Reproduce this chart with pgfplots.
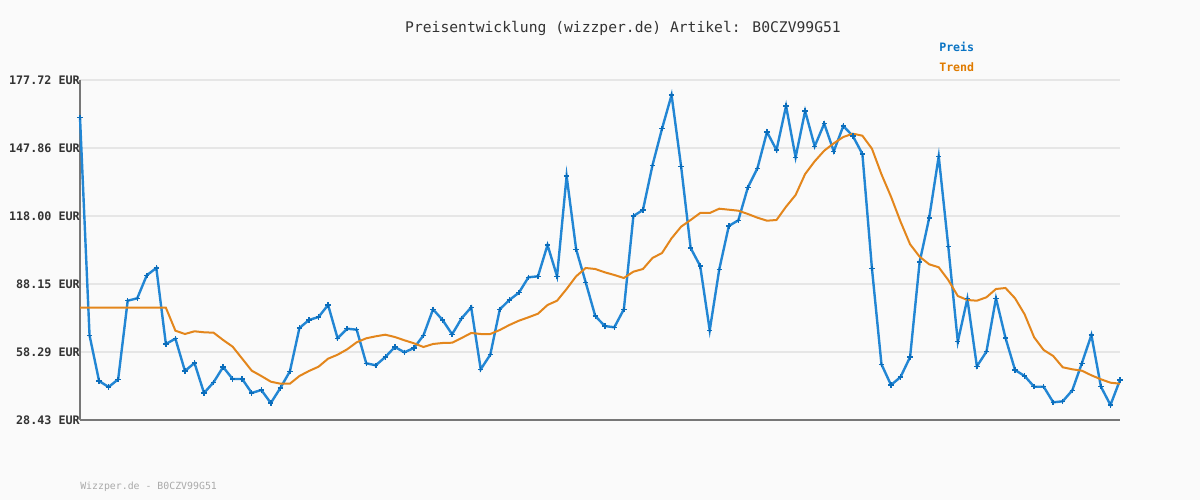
\documentclass[border=0pt]{standalone}
\usepackage{pgfplots}
\pgfplotsset{compat=1.18}
\usepackage{fontspec}
\setmainfont{DejaVu Sans Mono}
\setmonofont{DejaVu Sans Mono}
\definecolor{bgc}{HTML}{FAFAFA}
\definecolor{gridc}{HTML}{E6E6E6}
\definecolor{axc}{HTML}{777777}
\definecolor{txtc}{HTML}{333333}
\definecolor{preisc}{HTML}{2286D4}
\definecolor{markc}{HTML}{0B6DBB}
\definecolor{trendc}{HTML}{E3861C}
\definecolor{legb}{HTML}{0A74C4}
\definecolor{lego}{HTML}{E07B00}
\definecolor{footc}{HTML}{AAAAAA}
\begin{document}
\begin{tikzpicture}[x=0.75pt,y=0.75pt]
\fill[bgc] (0,0) rectangle (1200,500);
\begin{axis}[
  at={(60pt,60pt)}, anchor=south west,
  scale only axis, width=780pt, height=255pt,
  xmin=0, xmax=109, ymin=28.43, ymax=177.72,
  axis x line*=bottom, axis y line*=left,
  axis line style={axc, line width=1.5pt},
  xtick=\empty,
  ytick={28.43,58.29,88.15,118.00,147.86,177.72},
  yticklabels={{28.43 EUR},{58.29 EUR},{88.15 EUR},{118.00 EUR},{147.86 EUR},{177.72 EUR}},
  yticklabel style={font=\fontsize{8.8}{10}\selectfont\bfseries, text=txtc, inner xsep=0pt, xshift=0pt},
  major tick length=0pt,
  ymajorgrids, grid style={gridc, line width=1.5pt},
  clip=false,
]
\addplot[preisc, line width=1.8pt, mark=+, mark size=2pt, mark options={markc, line width=1.1pt}] coordinates {
(0,161.34)(1,65.62)(2,45.55)(3,42.92)(4,46.30)(5,80.81)(6,81.87)(7,91.97)(8,95.17)(9,61.80)
(10,64.13)(11,49.95)(12,53.46)(13,40.29)(14,44.98)(15,51.70)(16,46.43)(17,46.43)(18,40.29)(19,41.60)
(20,35.89)(21,42.48)(22,49.81)(23,68.83)(24,72.34)(25,73.66)(26,78.93)(27,64.30)(28,68.52)(29,68.08)
(30,53.33)(31,52.45)(32,56.09)(33,60.48)(34,58.16)(35,60.04)(36,65.62)(37,77.04)(38,72.34)(39,66.06)
(40,73.09)(41,77.91)(42,50.69)(43,57.10)(44,77.04)(45,81.12)(46,84.33)(47,91.09)(48,91.53)(49,105.27)
(50,91.53)(51,135.57)(52,103.38)(53,88.89)(54,74.10)(55,69.70)(56,69.13)(57,77.04)(58,118.00)(59,120.64)
(60,140.27)(61,156.34)(62,171.13)(63,139.83)(64,103.95)(65,96.05)(66,67.82)(67,94.60)(68,113.61)(69,116.12)
(70,130.61)(71,138.95)(72,154.89)(73,146.98)(74,166.31)(75,143.78)(76,164.11)(77,148.61)(78,158.53)(79,146.41)
(80,157.52)(81,153.13)(82,145.23)(83,95.04)(84,52.89)(85,43.80)(86,47.31)(87,56.09)(88,97.81)(89,117.13)
(90,144.22)(91,104.70)(92,62.81)(93,81.69)(94,52.01)(95,58.42)(96,81.87)(97,64.44)(98,50.38)(99,47.75)
(100,43.05)(101,43.05)(102,36.20)(103,36.64)(104,41.47)(105,53.33)(106,65.75)(107,43.05)(108,35.02)(109,45.99)
};
\addplot[trendc, line width=1.5pt, no marks] coordinates {
(0,77.74)(1,77.74)(2,77.74)(3,77.74)(4,77.74)(5,77.74)(6,77.74)(7,77.74)(8,77.74)(9,77.74)
(10,67.64)(11,66.19)(12,67.38)(13,66.94)(14,66.76)(15,63.56)(16,60.62)(17,55.35)(18,50.08)(19,47.75)
(20,45.25)(21,44.37)(22,44.37)(23,47.75)(24,49.95)(25,51.83)(26,55.35)(27,57.10)(28,59.47)(29,62.55)
(30,64.30)(31,65.18)(32,65.88)(33,64.87)(34,63.43)(35,62.11)(36,60.48)(37,61.80)(38,62.24)(39,62.37)
(40,64.44)(41,66.63)(42,66.19)(43,66.19)(44,67.95)(45,70.14)(46,72.03)(47,73.52)(48,75.10)(49,78.93)
(50,80.81)(51,85.95)(52,91.53)(53,95.17)(54,94.73)(55,93.28)(56,92.10)(57,90.78)(58,93.55)(59,94.73)
(60,99.56)(61,101.76)(62,108.21)(63,113.31)(64,116.25)(65,119.32)(66,119.32)(67,121.21)(68,120.77)(69,120.33)
(70,118.88)(71,117.26)(72,115.94)(73,116.25)(74,122.09)(75,127.23)(76,136.45)(77,142.02)(78,146.68)(79,149.93)
(80,152.69)(81,154.14)(82,153.26)(83,147.56)(84,136.31)(85,126.48)(86,115.50)(87,105.58)(88,100.13)(89,96.80)
(90,95.48)(91,89.90)(92,82.88)(93,81.12)(94,80.81)(95,82.31)(96,85.95)(97,86.39)(98,81.87)(99,74.84)
(100,64.74)(101,59.17)(102,56.53)(103,51.57)(104,50.69)(105,50.08)(106,48.06)(107,46.30)(108,44.81)(109,44.37)
};
\end{axis}
\node[text=txtc, font=\fontsize{11}{13}\selectfont] at (623,472) {Preisentwicklung (wizzper.de) Artikel: B0CZV99G51};
\node[anchor=west, inner sep=0pt, text=legb, font=\fontsize{8.7}{10}\selectfont\bfseries] at (939,453) {Preis};
\node[anchor=west, inner sep=0pt, text=lego, font=\fontsize{8.7}{10}\selectfont\bfseries] at (939,433) {Trend};
\node[anchor=west, inner sep=0pt, text=footc, font=\fontsize{7.4}{9}\selectfont] at (80,13) {Wizzper.de - B0CZV99G51};
\end{tikzpicture}
\end{document}
